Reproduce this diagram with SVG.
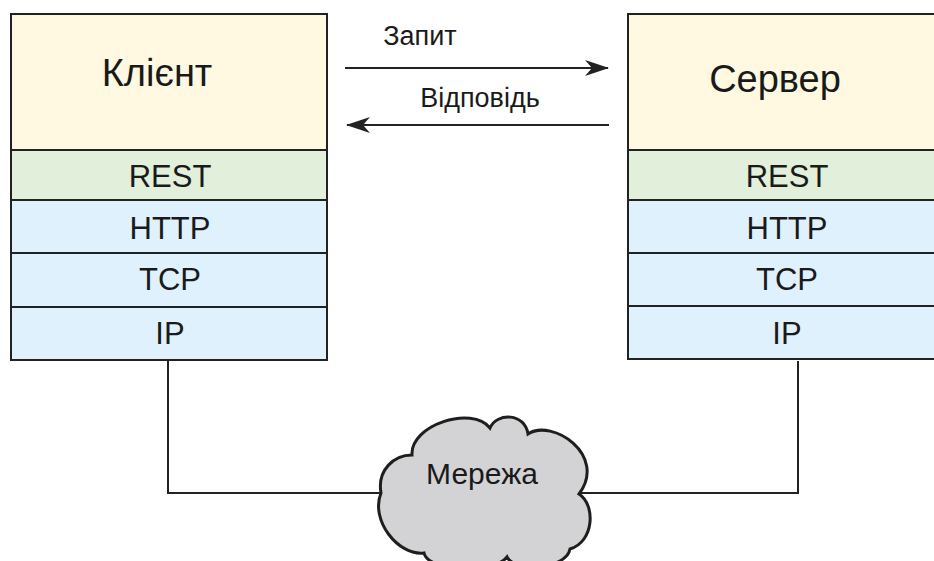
<svg xmlns="http://www.w3.org/2000/svg" width="934" height="561" viewBox="0 0 934 561">
<defs>
<style>
.t{font-family:"Liberation Sans",Arial,sans-serif;fill:#1a1a1a;text-anchor:middle}
.hd{fill:#fff9e1;stroke:#222;stroke-width:2}
.rs{fill:#e1efdb;stroke:#222;stroke-width:2}
.bl{fill:#dff1fc;stroke:#222;stroke-width:2}
.w{fill:none;stroke:#222;stroke-width:2}
</style>
<marker id="ah" viewBox="0 0 24 16" refX="23" refY="8" markerWidth="24" markerHeight="16" markerUnits="userSpaceOnUse" orient="auto">
<path d="M0,0 L24,8 L0,16 L7,8 z" fill="#222"/>
</marker>
</defs>
<rect width="934" height="561" fill="#fff"/>
<g id="connectors">
<path class="w" d="M168,361 V493 H382"/>
<path class="w" d="M798,361 V493 H578"/>
<line class="w" x1="345" y1="68" x2="608" y2="68" marker-end="url(#ah)"/>
<line class="w" x1="609" y1="125" x2="347" y2="125" marker-end="url(#ah)"/>
<text class="t" x="420" y="45" font-size="27">Запит</text>
<text class="t" x="480" y="107" font-size="27">Відповідь</text>
</g>
<g id="client">
<rect class="hd" x="11" y="14" width="316" height="136"/>
<rect class="rs" x="11" y="150" width="316" height="50"/>
<rect class="bl" x="11" y="200" width="316" height="53"/>
<rect class="bl" x="11" y="253" width="316" height="54"/>
<rect class="bl" x="11" y="307" width="316" height="53"/>
<text class="t" x="157" y="86" font-size="38">Клієнт</text>
<text class="t" x="170" y="187" font-size="31">REST</text>
<text class="t" x="170" y="239" font-size="31">HTTP</text>
<text class="t" x="170" y="290" font-size="31">TCP</text>
<text class="t" x="170" y="344" font-size="31">IP</text>
</g>
<g id="server">
<rect class="hd" x="628" y="14" width="317" height="136"/>
<rect class="rs" x="628" y="150" width="317" height="50"/>
<rect class="bl" x="628" y="200" width="317" height="53"/>
<rect class="bl" x="628" y="253" width="317" height="53"/>
<rect class="bl" x="628" y="306" width="317" height="53"/>
<text class="t" x="775" y="92" font-size="38">Сервер</text>
<text class="t" x="787" y="187" font-size="31">REST</text>
<text class="t" x="787" y="239" font-size="31">HTTP</text>
<text class="t" x="787" y="290" font-size="31">TCP</text>
<text class="t" x="787" y="344" font-size="31">IP</text>
</g>
<g id="network">
<path d="M381,493 C377,470 394,455 412,455 C410,425 472,405 490,428 C497,412 525,413 528,434 C552,418 608,455 579,494 C596,505 594,542 570,549 C566,570 514,572 507,557 C494,574 428,572 424,553 C398,556 370,520 381,493 Z" fill="#d3d3d5" stroke="#1e1e1e" stroke-width="3"/>
<text class="t" x="482" y="484" font-size="30">Мережа</text>
</g>
</svg>
